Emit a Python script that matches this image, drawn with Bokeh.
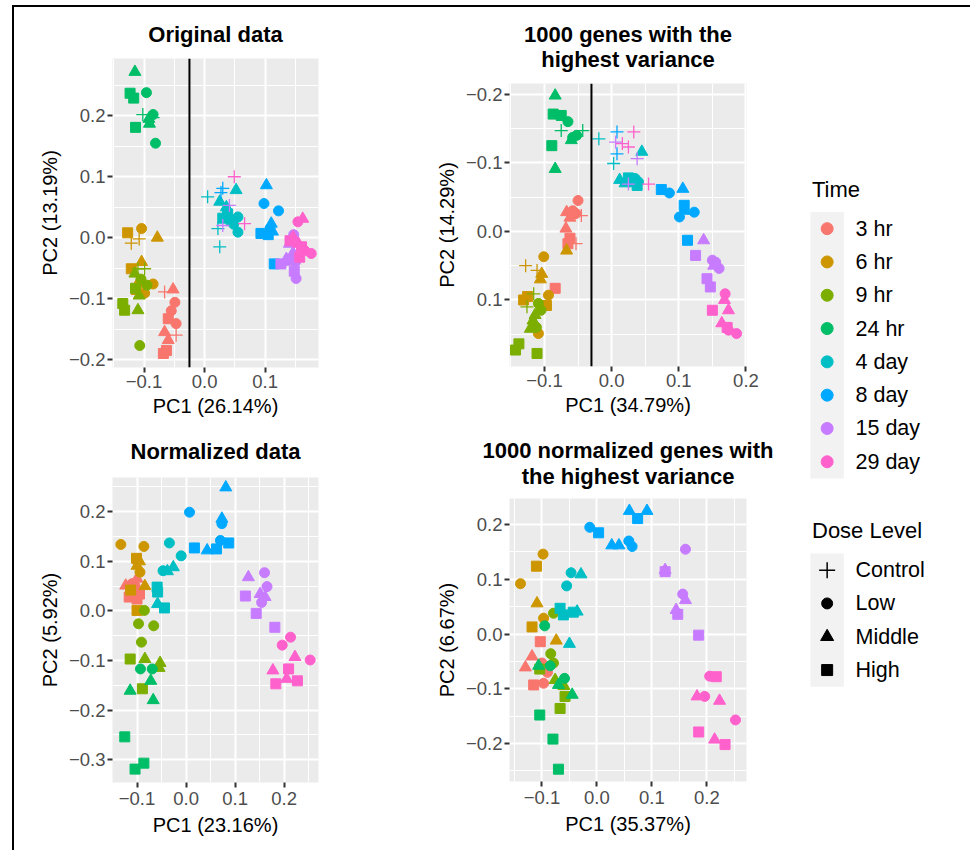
from bokeh.plotting import figure
from bokeh.layouts import row, column
from bokeh.models import Range1d, FixedTicker, CustomJSTickFormatter, Span, ColumnDataSource, Title
from bokeh.embed import file_html
from bokeh.resources import INLINE
from bokeh.core.properties import value

FONT = "Liberation Sans"

# ---------------- data ----------------
TIMES = ["3 hr", "6 hr", "9 hr", "24 hr", "4 day", "8 day", "15 day", "29 day"]
TIME_COLORS = ["#F8766D", "#CD9600", "#7CAE00", "#00BE67", "#00BFC4", "#00A9FF", "#C77CFF", "#FF61CC"]
DOSES = ["Control", "Low", "Middle", "High"]
DOSE_CODES = ["C", "L", "M", "H"]

# (time, dose, PC1, PC2)
original_points = [
    ("3 hr", "L", -0.049, -0.106), ("3 hr", "L", -0.047, -0.141), ("3 hr", "L", -0.055, -0.120),
    ("3 hr", "M", -0.052, -0.085), ("3 hr", "M", -0.066, -0.155), ("3 hr", "M", -0.060, -0.168),
    ("3 hr", "H", -0.060, -0.133), ("3 hr", "H", -0.063, -0.185), ("3 hr", "H", -0.068, -0.190),
    ("3 hr", "C", -0.066, -0.089), ("3 hr", "C", -0.047, -0.160),
    ("6 hr", "L", -0.104, 0.015), ("6 hr", "L", -0.085, -0.076), ("6 hr", "L", -0.099, -0.091),
    ("6 hr", "M", -0.078, 0.000), ("6 hr", "M", -0.104, -0.040), ("6 hr", "M", -0.110, -0.075),
    ("6 hr", "H", -0.127, 0.008), ("6 hr", "H", -0.121, -0.051), ("6 hr", "H", -0.113, -0.085),
    ("6 hr", "C", -0.121, -0.009), ("6 hr", "C", -0.108, -0.002),
    ("9 hr", "L", -0.107, -0.177), ("9 hr", "L", -0.095, -0.078), ("9 hr", "L", -0.105, -0.068),
    ("9 hr", "M", -0.110, -0.119), ("9 hr", "M", -0.115, -0.059), ("9 hr", "M", -0.108, -0.095),
    ("9 hr", "H", -0.135, -0.108), ("9 hr", "H", -0.132, -0.119), ("9 hr", "H", -0.114, -0.083),
    ("9 hr", "C", -0.110, -0.051), ("9 hr", "C", -0.099, -0.051),
    ("24 hr", "L", -0.096, 0.238), ("24 hr", "L", -0.085, 0.202), ("24 hr", "L", -0.081, 0.155),
    ("24 hr", "M", -0.115, 0.272), ("24 hr", "M", -0.091, 0.187), ("24 hr", "M", -0.092, 0.195),
    ("24 hr", "H", -0.123, 0.237), ("24 hr", "H", -0.117, 0.229), ("24 hr", "H", -0.114, 0.181),
    ("24 hr", "C", -0.102, 0.202), ("24 hr", "C", -0.085, 0.197),
    ("4 day", "L", 0.055, 0.009), ("4 day", "L", 0.055, 0.034), ("4 day", "L", 0.048, 0.022),
    ("4 day", "M", 0.052, 0.078), ("4 day", "M", 0.025, 0.059), ("4 day", "M", 0.036, 0.050),
    ("4 day", "H", 0.038, 0.039), ("4 day", "H", 0.044, 0.028), ("4 day", "H", 0.030, 0.032),
    ("4 day", "C", 0.005, 0.067), ("4 day", "C", 0.022, 0.015), ("4 day", "C", 0.025, -0.015),
    ("8 day", "L", 0.098, 0.056), ("8 day", "L", 0.122, 0.044), ("8 day", "L", 0.108, 0.015),
    ("8 day", "M", 0.102, 0.086), ("8 day", "M", 0.110, 0.023), ("8 day", "M", 0.112, 0.010),
    ("8 day", "H", 0.093, 0.007), ("8 day", "H", 0.115, -0.043), ("8 day", "H", 0.105, 0.005),
    ("8 day", "C", 0.030, 0.081), ("8 day", "C", 0.027, 0.074),
    ("15 day", "L", 0.151, -0.067), ("15 day", "L", 0.147, 0.005), ("15 day", "L", 0.150, -0.040),
    ("15 day", "M", 0.140, -0.010), ("15 day", "M", 0.146, -0.025), ("15 day", "M", 0.135, -0.035),
    ("15 day", "H", 0.126, -0.043), ("15 day", "H", 0.140, -0.037), ("15 day", "H", 0.148, -0.055),
    ("15 day", "C", 0.041, 0.053), ("15 day", "C", 0.030, 0.020),
    ("29 day", "L", 0.154, 0.026), ("29 day", "L", 0.165, -0.021), ("29 day", "L", 0.176, -0.026),
    ("29 day", "M", 0.162, 0.031), ("29 day", "M", 0.146, 0.001), ("29 day", "M", 0.155, -0.010),
    ("29 day", "H", 0.141, -0.005), ("29 day", "H", 0.157, -0.032), ("29 day", "H", 0.160, -0.015),
    ("29 day", "C", 0.049, 0.100), ("29 day", "C", 0.066, 0.023),
]

top1000_points = [
    ("3 hr", "L", -0.050, -0.045), ("3 hr", "L", -0.053, -0.026), ("3 hr", "L", -0.058, -0.030),
    ("3 hr", "M", -0.067, -0.028), ("3 hr", "M", -0.068, -0.004), ("3 hr", "M", -0.062, -0.020),
    ("3 hr", "H", -0.065, 0.018), ("3 hr", "H", -0.084, 0.083), ("3 hr", "H", -0.062, 0.010),
    ("3 hr", "C", -0.045, -0.023), ("3 hr", "C", -0.053, 0.018),
    ("6 hr", "L", -0.101, 0.037), ("6 hr", "L", -0.094, 0.093), ("6 hr", "L", -0.109, 0.149),
    ("6 hr", "M", -0.067, 0.028), ("6 hr", "M", -0.104, 0.062), ("6 hr", "M", -0.106, 0.070),
    ("6 hr", "H", -0.131, 0.100), ("6 hr", "H", -0.097, 0.108), ("6 hr", "H", -0.125, 0.095),
    ("6 hr", "C", -0.128, 0.050), ("6 hr", "C", -0.111, 0.057),
    ("9 hr", "L", -0.109, 0.105), ("9 hr", "L", -0.105, 0.115), ("9 hr", "L", -0.112, 0.140),
    ("9 hr", "M", -0.114, 0.122), ("9 hr", "M", -0.121, 0.142), ("9 hr", "M", -0.117, 0.130),
    ("9 hr", "H", -0.138, 0.164), ("9 hr", "H", -0.143, 0.173), ("9 hr", "H", -0.111, 0.178),
    ("9 hr", "C", -0.116, 0.091), ("9 hr", "C", -0.126, 0.110),
    ("24 hr", "L", -0.058, -0.137), ("24 hr", "L", -0.052, -0.140), ("24 hr", "L", -0.065, -0.160),
    ("24 hr", "M", -0.084, -0.198), ("24 hr", "M", -0.060, -0.133), ("24 hr", "M", -0.084, -0.091),
    ("24 hr", "H", -0.087, -0.171), ("24 hr", "H", -0.075, -0.169), ("24 hr", "H", -0.089, -0.125),
    ("24 hr", "C", -0.075, -0.147), ("24 hr", "C", -0.043, -0.147),
    ("4 day", "L", 0.035, -0.077), ("4 day", "L", 0.040, -0.072), ("4 day", "L", 0.028, -0.075),
    ("4 day", "M", 0.045, -0.116), ("4 day", "M", 0.012, -0.075), ("4 day", "M", 0.020, -0.070),
    ("4 day", "H", 0.025, -0.078), ("4 day", "H", 0.038, -0.067), ("4 day", "H", 0.032, -0.073),
    ("4 day", "C", -0.019, -0.135), ("4 day", "C", 0.003, -0.099),
    ("8 day", "L", 0.086, -0.056), ("8 day", "L", 0.123, -0.028), ("8 day", "L", 0.101, -0.021),
    ("8 day", "M", 0.106, -0.062), ("8 day", "M", 0.108, -0.030),
    ("8 day", "H", 0.074, -0.061), ("8 day", "H", 0.108, -0.038), ("8 day", "H", 0.113, 0.013),
    ("8 day", "C", 0.008, -0.145), ("8 day", "C", 0.008, -0.113),
    ("15 day", "L", 0.150, 0.042), ("15 day", "L", 0.160, 0.054), ("15 day", "L", 0.155, 0.045),
    ("15 day", "M", 0.137, 0.013), ("15 day", "M", 0.152, 0.050),
    ("15 day", "H", 0.125, 0.035), ("15 day", "H", 0.142, 0.069), ("15 day", "H", 0.147, 0.081),
    ("15 day", "C", 0.006, -0.130), ("15 day", "C", 0.038, -0.106), ("15 day", "C", 0.025, -0.069),
    ("29 day", "L", 0.169, 0.091), ("29 day", "L", 0.174, 0.144), ("29 day", "L", 0.186, 0.149),
    ("29 day", "M", 0.174, 0.115), ("29 day", "M", 0.164, 0.134), ("29 day", "M", 0.168, 0.100),
    ("29 day", "H", 0.150, 0.115), ("29 day", "H", 0.172, 0.140),
    ("29 day", "C", 0.033, -0.145), ("29 day", "C", 0.016, -0.128), ("29 day", "C", 0.025, -0.123),
    ("29 day", "C", 0.055, -0.069),
]

normalized_points = [
    ("3 hr", "L", -0.104, 0.050), ("3 hr", "L", -0.098, 0.040), ("3 hr", "L", -0.110, 0.055),
    ("3 hr", "M", -0.123, 0.051), ("3 hr", "M", -0.100, 0.065), ("3 hr", "M", -0.108, 0.035),
    ("3 hr", "H", -0.116, 0.028), ("3 hr", "H", -0.100, 0.024), ("3 hr", "H", -0.095, 0.034),
    ("6 hr", "L", -0.133, 0.134), ("6 hr", "L", -0.086, 0.130), ("6 hr", "L", -0.094, 0.078),
    ("6 hr", "M", -0.100, 0.091), ("6 hr", "M", -0.084, 0.050), ("6 hr", "M", -0.095, 0.100),
    ("6 hr", "H", -0.101, 0.106), ("6 hr", "H", -0.113, 0.042), ("6 hr", "H", -0.100, 0.001),
    ("9 hr", "L", -0.085, 0.001), ("9 hr", "L", -0.097, -0.026), ("9 hr", "L", -0.066, -0.030),
    ("9 hr", "L", -0.091, -0.063),
    ("9 hr", "M", -0.084, -0.097), ("9 hr", "M", -0.053, -0.105), ("9 hr", "M", -0.055, -0.115),
    ("9 hr", "H", -0.114, -0.097), ("9 hr", "H", -0.089, -0.157),
    ("24 hr", "L", -0.093, -0.117), ("24 hr", "L", -0.069, -0.117),
    ("24 hr", "M", -0.072, -0.141), ("24 hr", "M", -0.114, -0.161), ("24 hr", "M", -0.067, -0.180),
    ("24 hr", "H", -0.125, -0.254), ("24 hr", "H", -0.104, -0.319), ("24 hr", "H", -0.086, -0.307),
    ("4 day", "L", -0.034, 0.137), ("4 day", "L", -0.010, 0.111), ("4 day", "L", -0.047, 0.081),
    ("4 day", "M", -0.026, 0.088), ("4 day", "M", -0.058, 0.014), ("4 day", "M", -0.038, 0.080),
    ("4 day", "H", -0.059, 0.048), ("4 day", "H", -0.058, 0.038), ("4 day", "H", -0.044, 0.006),
    ("8 day", "L", 0.007, 0.199), ("8 day", "L", 0.073, 0.176), ("8 day", "L", 0.070, 0.142),
    ("8 day", "M", 0.081, 0.249), ("8 day", "M", 0.073, 0.186), ("8 day", "M", 0.043, 0.122),
    ("8 day", "H", 0.017, 0.127), ("8 day", "H", 0.062, 0.125), ("8 day", "H", 0.087, 0.137),
    ("15 day", "L", 0.160, 0.077), ("15 day", "L", 0.165, 0.049), ("15 day", "L", 0.154, 0.017),
    ("15 day", "M", 0.127, 0.068), ("15 day", "M", 0.151, 0.034), ("15 day", "M", 0.161, 0.028),
    ("15 day", "H", 0.121, 0.030), ("15 day", "H", 0.143, -0.005), ("15 day", "H", 0.181, -0.033),
    ("29 day", "L", 0.213, -0.053), ("29 day", "L", 0.196, -0.069), ("29 day", "L", 0.253, -0.099),
    ("29 day", "M", 0.222, -0.093), ("29 day", "M", 0.177, -0.120), ("29 day", "M", 0.205, -0.137),
    ("29 day", "H", 0.209, -0.117), ("29 day", "H", 0.183, -0.147), ("29 day", "H", 0.227, -0.141),
]

norm1000_points = [
    ("3 hr", "L", -0.100, -0.053), ("3 hr", "L", -0.097, -0.090), ("3 hr", "L", -0.090, -0.070),
    ("3 hr", "M", -0.118, -0.041), ("3 hr", "M", -0.130, -0.061),
    ("3 hr", "H", -0.103, -0.014), ("3 hr", "H", -0.115, -0.093),
    ("6 hr", "L", -0.098, 0.146), ("6 hr", "L", -0.139, 0.092), ("6 hr", "L", -0.097, 0.029),
    ("6 hr", "M", -0.109, 0.056), ("6 hr", "M", -0.074, -0.012),
    ("6 hr", "H", -0.110, 0.124), ("6 hr", "H", -0.118, 0.013),
    ("9 hr", "L", -0.079, 0.038), ("9 hr", "L", -0.084, -0.036), ("9 hr", "L", -0.079, -0.053),
    ("9 hr", "M", -0.076, -0.084), ("9 hr", "M", -0.060, -0.095),
    ("9 hr", "H", -0.104, -0.064), ("9 hr", "H", -0.058, -0.114), ("9 hr", "H", -0.067, -0.136),
    ("24 hr", "L", -0.095, 0.015), ("24 hr", "L", -0.085, -0.058), ("24 hr", "L", -0.059, -0.081),
    ("24 hr", "M", -0.106, -0.058), ("24 hr", "M", -0.070, -0.093), ("24 hr", "M", -0.045, -0.111),
    ("24 hr", "H", -0.104, -0.148), ("24 hr", "H", -0.080, -0.192), ("24 hr", "H", -0.070, -0.247),
    ("4 day", "L", -0.047, 0.112), ("4 day", "L", -0.055, 0.088),
    ("4 day", "M", -0.029, 0.109), ("4 day", "M", -0.036, 0.041), ("4 day", "M", -0.050, -0.018),
    ("4 day", "H", -0.067, 0.047), ("4 day", "H", -0.061, 0.035), ("4 day", "H", -0.043, 0.040),
    ("8 day", "L", -0.013, 0.195), ("8 day", "L", 0.058, 0.170), ("8 day", "L", 0.064, 0.160),
    ("8 day", "M", 0.059, 0.225), ("8 day", "M", 0.091, 0.225), ("8 day", "M", 0.027, 0.162),
    ("8 day", "M", 0.040, 0.162),
    ("8 day", "H", 0.074, 0.211), ("8 day", "H", 0.003, 0.185),
    ("15 day", "L", 0.161, 0.155), ("15 day", "L", 0.156, 0.073),
    ("15 day", "M", 0.124, 0.117), ("15 day", "M", 0.161, 0.062), ("15 day", "M", 0.144, 0.044),
    ("15 day", "H", 0.124, 0.114), ("15 day", "H", 0.147, 0.036), ("15 day", "H", 0.185, -0.002),
    ("29 day", "L", 0.205, -0.077), ("29 day", "L", 0.196, -0.114), ("29 day", "L", 0.252, -0.157),
    ("29 day", "M", 0.182, -0.114), ("29 day", "M", 0.223, -0.122), ("29 day", "M", 0.214, -0.193),
    ("29 day", "H", 0.217, -0.078), ("29 day", "H", 0.185, -0.179), ("29 day", "H", 0.233, -0.202),
]

# ---------------- styling ----------------
MARKER = {"C": "cross", "L": "circle", "M": "triangle", "H": "square"}
MSIZE = {"C": 13, "L": 10, "M": 12, "H": 10}
MLW = {"C": 1.3, "L": 1, "M": 1, "H": 1}
TCOL = dict(zip(TIMES, TIME_COLORS))

minus_fmt = "return tick.toFixed(1).replace('-', '\\u2212');"


def make_panel(points, title_lines, xlab, ylab, xr, yr, xt, xmt, yt, ymt,
               w, h, bl, br, bt, bb, vline=None, title_standoff=12, line_gap=-10,
               xlabel_standoff=2, xtitle_standoff=4):
    p = figure(width=w, height=h, x_range=Range1d(*xr), y_range=Range1d(*yr),
               output_backend="svg", toolbar_location=None,
               min_border_left=bl, min_border_right=br,
               min_border_top=bt, min_border_bottom=bb, title=None)
    p.background_fill_color = "#EBEBEB"
    p.border_fill_color = "white"
    p.outline_line_color = None

    # title lines: nearest to the frame first
    for k, line in enumerate(reversed(title_lines)):
        t = Title(text=line, align="center", text_font=FONT, text_font_size="22px",
                  text_font_style="bold", text_color="black",
                  standoff=title_standoff if k == 0 else line_gap)
        p.add_layout(t, "above")

    p.xaxis.ticker = FixedTicker(ticks=xt, minor_ticks=xmt)
    p.yaxis.ticker = FixedTicker(ticks=yt, minor_ticks=ymt)
    for ax in (p.xaxis, p.yaxis):
        ax.formatter = CustomJSTickFormatter(code=minus_fmt)
        ax.axis_line_color = None
        ax.minor_tick_line_color = None
        ax.major_tick_line_color = "#333333"
        ax.major_tick_line_width = 2
        ax.major_tick_out = 5
        ax.major_tick_in = 0
        ax.major_label_text_font = FONT
        ax.major_label_text_font_size = "18.5px"
        ax.major_label_text_color = "#4D4D4D"
        ax.major_label_standoff = 2
        ax.axis_label_text_font = FONT
        ax.axis_label_text_font_size = "20px"
        ax.axis_label_text_font_style = "normal"
        ax.axis_label_text_color = "black"
    p.xaxis.axis_label = xlab
    p.yaxis.axis_label = ylab
    p.xaxis.major_label_standoff = xlabel_standoff
    p.xaxis.axis_label_standoff = xtitle_standoff
    p.yaxis.axis_label_standoff = 5

    for g in (p.xgrid, p.ygrid):
        g.grid_line_color = "white"
        g.grid_line_width = 2
        g.minor_grid_line_color = "white"
        g.minor_grid_line_width = 1

    if vline is not None:
        p.add_layout(Span(location=vline, dimension="height", line_color="black", line_width=2))

    src = ColumnDataSource(dict(
        x=[pt[2] for pt in points],
        y=[pt[3] for pt in points],
        marker=[MARKER[pt[1]] for pt in points],
        size=[MSIZE[pt[1]] for pt in points],
        lw=[MLW[pt[1]] for pt in points],
        color=[TCOL[pt[0]] for pt in points],
    ))
    p.scatter(x="x", y="y", marker="marker", size="size", fill_color="color",
              line_color="color", line_width="lw", source=src)
    return p


p1 = make_panel(original_points, ["Original data"], "PC1 (26.14%)", "PC2 (13.19%)",
                (-0.152, 0.188), (-0.213, 0.294),
                [-0.1, 0.0, 0.1], [-0.15, -0.05, 0.05, 0.15],
                [-0.2, -0.1, 0.0, 0.1, 0.2], [-0.15, -0.05, 0.05, 0.15, 0.25],
                386, 415, 97, 82, 51, 55, vline=-0.025, title_standoff=23)
p2 = make_panel(top1000_points, ["1000 genes with the", "highest variance"], "PC1 (34.79%)", "PC2 (14.29%)",
                (-0.152, 0.2008), (0.197, -0.2156),
                [-0.1, 0.0, 0.1, 0.2], [-0.15, -0.05, 0.05, 0.15],
                [-0.2, -0.1, 0.0, 0.1], [-0.15, -0.05, 0.05, 0.15],
                390, 415, 109, 42, 76, 56, vline=-0.03, title_standoff=23, line_gap=-26)
p3 = make_panel(normalized_points, ["Normalized data"], "PC1 (23.16%)", "PC2 (5.92%)",
                (-0.150, 0.27), (-0.346, 0.269),
                [-0.1, 0.0, 0.1, 0.2], [-0.15, -0.05, 0.05, 0.15, 0.25],
                [-0.3, -0.2, -0.1, 0.0, 0.1, 0.2], [-0.25, -0.15, -0.05, 0.05, 0.15, 0.25],
                386, 428, 98, 81, 55, 68, title_standoff=28,
                xlabel_standoff=4, xtitle_standoff=6)
p4 = make_panel(norm1000_points, ["1000 normalized genes with", "the highest variance"], "PC1 (35.37%)", "PC2 (6.67%)",
                (-0.159, 0.272), (-0.2695, 0.2477),
                [-0.1, 0.0, 0.1, 0.2], [-0.15, -0.05, 0.05, 0.15, 0.25],
                [-0.2, -0.1, 0.0, 0.1, 0.2], [-0.25, -0.15, -0.05, 0.05, 0.15],
                390, 428, 109, 44, 76, 69, title_standoff=20, line_gap=-22,
                xlabel_standoff=4, xtitle_standoff=6)

# ---------------- legend ----------------
LW, LH = 180, 843
leg = figure(width=LW, height=LH, x_range=Range1d(0, LW), y_range=Range1d(LH, 0),
             output_backend="svg", toolbar_location=None, min_border=0,
             x_axis_type=None, y_axis_type=None)
leg.xgrid.visible = False
leg.ygrid.visible = False
leg.outline_line_color = None
leg.background_fill_color = "white"
leg.border_fill_color = "white"

KEY_L, KEY_R, KEY_H = 20, 53.3, 33.3
LABEL_X = 65
TITLE_X = 21.5
TIME_TITLE_Y, TIME_TOP = 182, 204.5
DOSE_TITLE_Y, DOSE_TOP = 523, 546
KEY_CX = (KEY_L + KEY_R) / 2

def key_block(top, n):
    leg.quad(left=KEY_L, right=KEY_R, top=top, bottom=top + n * KEY_H,
             fill_color="#F2F2F2", line_color=None)
    return [top + (i + 0.5) * KEY_H for i in range(n)]

ty = key_block(TIME_TOP, len(TIMES))
leg.scatter(x=[KEY_CX] * len(TIMES), y=ty, marker="circle", size=12,
            fill_color=TIME_COLORS, line_color=TIME_COLORS)
leg.text(x=[LABEL_X] * len(TIMES), y=ty, text=TIMES, text_baseline="middle",
         text_font=value(FONT), text_font_size="21.5px", text_color="black")
leg.text(x=[TITLE_X], y=[TIME_TITLE_Y], text=["Time"], text_baseline="middle",
         text_font=value(FONT), text_font_size="22px", text_color="black")

dy = key_block(DOSE_TOP, len(DOSES))
leg.scatter(x=[KEY_CX] * len(DOSES), y=dy, marker=[MARKER[c] for c in DOSE_CODES],
            size=[16, 11, 13, 11], fill_color="black", line_color="black",
            line_width=[1.5, 1, 1, 1])
leg.text(x=[LABEL_X] * len(DOSES), y=dy, text=DOSES, text_baseline="middle",
         text_font=value(FONT), text_font_size="21.5px", text_color="black")
leg.text(x=[TITLE_X], y=[DOSE_TITLE_Y], text=["Dose Level"], text_baseline="middle",
         text_font=value(FONT), text_font_size="22px", text_color="black")

layout = row(column(p1, p3), column(p2, p4), leg,
             styles={"margin-left": "12px", "margin-top": "5px",
                     "border-left": "2px solid black", "border-top": "2px solid black"})

open("out.html", "w").write(file_html(layout, INLINE))
